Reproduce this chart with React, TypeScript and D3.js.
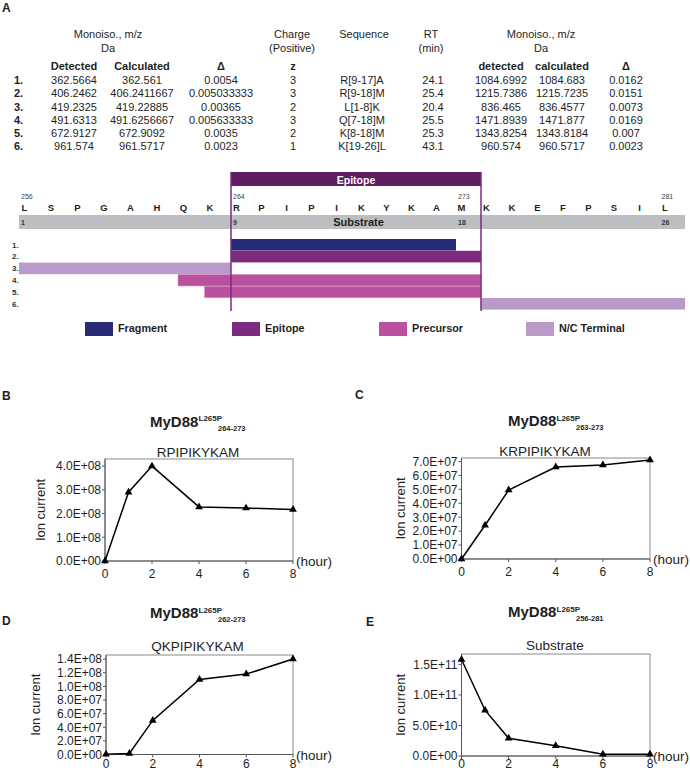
import React from 'react';
import * as d3 from 'd3';

const FONT = '"Liberation Sans", Arial, Helvetica, sans-serif';
const INK = '#1e1e1e';

// ---- panel A: mass table ----
const rowNumbers = ['1.', '2.', '3.', '4.', '5.', '6.'];
const detected = ['362.5664', '406.2462', '419.2325', '491.6313', '672.9127', '961.574'];
const calculated = ['362.561', '406.2411667', '419.22885', '491.6256667', '672.9092', '961.5717'];
const delta = ['0.0054', '0.005033333', '0.00365', '0.005633333', '0.0035', '0.0023'];
const charge = ['3', '3', '2', '3', '2', '1'];
const sequences = ['R[9-17]A', 'R[9-18]M', 'L[1-8]K', 'Q[7-18]M', 'K[8-18]M', 'K[19-26]L'];
const retention = ['24.1', '25.4', '20.4', '25.5', '25.3', '43.1'];
const detectedDa = ['1084.6992', '1215.7386', '836.465', '1471.8939', '1343.8254', '960.574'];
const calculatedDa = ['1084.683', '1215.7235', '836.4577', '1471.877', '1343.8184', '960.5717'];
const deltaDa = ['0.0162', '0.0151', '0.0073', '0.0169', '0.007', '0.0023'];

// ---- panel A: peptide map ----
const residues = 'LSPGAHQKRPIPIKYKAMKKEFPSIL'.split('');
const markedPositions = [1, 9, 18, 26]; // 1-based, residue number = 255 + pos
const peptideStart = [9, 9, 1, 7, 8, 19];
const peptideEnd = [17, 18, 8, 18, 18, 26];
const peptideKind = ['Fragment', 'Epitope', 'N/C Terminal', 'Precursor', 'Precursor', 'N/C Terminal'];
const legendKinds = ['Fragment', 'Epitope', 'Precursor', 'N/C Terminal'];
const kindColor: Record<string, string> = {
  Fragment: '#282c78',
  Epitope: '#7e2a7f',
  Precursor: '#b9519f',
  'N/C Terminal': '#b99bca',
};

// ---- panels B-E: time courses ----
const hours = [0, 1, 2, 4, 6, 8];
const hourTicks = [0, 2, 4, 6, 8];
const rpipikykam = [0, 2.9e8, 4.0e8, 2.28e8, 2.23e8, 2.17e8];
const krpipikykam = [0, 2.42e7, 4.95e7, 6.6e7, 6.75e7, 7.1e7];
const qkpipikykam = [5e5, 1.5e6, 5.0e7, 1.1e8, 1.18e8, 1.4e8];
const substrate = [1.58e11, 7.5e10, 2.9e10, 1.68e10, 3.0e9, 3.0e9];
const ticksB = [0, 1e8, 2e8, 3e8, 4e8];
const ticksC = [0, 1e7, 2e7, 3e7, 4e7, 5e7, 6e7, 7e7];
const ticksD = [0, 2e7, 4e7, 6e7, 8e7, 1e8, 1.2e8, 1.4e8];
const ticksE = [0, 5e10, 1e11, 1.5e11];

const sci = (v: number) => {
  const [m, e] = v.toExponential(1).split('e');
  const ex = parseInt(e, 10);
  return `${m}E${ex < 0 ? '-' : '+'}${String(Math.abs(ex)).padStart(2, '0')}`;
};

interface ChartSpec {
  letter: string; letterX: number; letterY: number;
  titleX: number; titleY: number; range: string;
  sub: string; subX: number; subY: number;
  l: number; r: number; t: number; b: number;
  yMax: number; ticks: number[]; values: number[]; ylabX: number;
}

const charts: ChartSpec[] = [
  { letter: 'B', letterX: 2, letterY: 399.5, titleX: 150, titleY: 426.5, range: '264-273', sub: 'RPIPIKYKAM', subX: 198, subY: 456.5,
    l: 105, r: 293, t: 459, b: 561, yMax: 4.3e8, ticks: ticksB, values: rpipikykam, ylabX: 40 },
  { letter: 'C', letterX: 355, letterY: 398.5, titleX: 508, titleY: 426, range: '263-273', sub: 'KRPIPIKYKAM', subX: 545, subY: 456,
    l: 461.5, r: 650, t: 458, b: 559, yMax: 7.25e7, ticks: ticksC, values: krpipikykam, ylabX: 400 },
  { letter: 'D', letterX: 2, letterY: 625, titleX: 150, titleY: 618, range: '262-273', sub: 'QKPIPIKYKAM', subX: 197.5, subY: 650.5,
    l: 106, r: 293, t: 655, b: 754.5, yMax: 1.46e8, ticks: ticksD, values: qkpipikykam, ylabX: 35 },
  { letter: 'E', letterX: 366, letterY: 626, titleX: 508, titleY: 617, range: '256-281', sub: 'Substrate', subX: 555, subY: 650,
    l: 461.5, r: 650, t: 654, b: 756, yMax: 1.67e11, ticks: ticksE, values: substrate, ylabX: 400 },
];

const TimeCourse: React.FC<{ s: ChartSpec }> = ({ s }) => {
  const x = d3.scaleLinear().domain([0, 8]).range([s.l, s.r]);
  const y = d3.scaleLinear().domain([0, s.yMax]).range([s.b, s.t]);
  const pts = hours.map((h, i) => [x(h), y(s.values[i])] as [number, number]);
  const line = d3.line()(pts) || '';
  const tri = d3.symbol(d3.symbolTriangle, 26)() || '';
  // bottom row of labels sits on the page edge
  const xLabY = Math.min(s.b + 16.5, 768);
  return (
    <g fontFamily={FONT} fill={INK}>
      <text x={s.letterX} y={s.letterY} fontSize={12} fontWeight="bold">{s.letter}</text>
      <text x={s.titleX} y={s.titleY} fontSize={15} fontWeight="bold">MyD88</text>
      <text x={s.titleX + 48.5} y={s.titleY - 5.5} fontSize={8} fontWeight="bold">L265P</text>
      <text x={s.titleX + 68} y={s.titleY + 4} fontSize={7.5} fontWeight="bold">{s.range}</text>
      <text x={s.subX} y={s.subY} fontSize={13.5} textAnchor="middle">{s.sub}</text>
      <rect x={s.l} y={s.t} width={s.r - s.l} height={s.b - s.t} fill="none" stroke="#8a8a8a" strokeWidth={1} />
      <line x1={s.l} x2={s.l} y1={s.t} y2={s.b} stroke="#555" />
      <line x1={s.l} x2={s.r} y1={s.b} y2={s.b} stroke="#555" />
      {s.ticks.map((v) => (
        <g key={v}>
          <line x1={s.l - 3} x2={s.l} y1={y(v)} y2={y(v)} stroke="#555" />
          <text x={s.l - 4} y={y(v) + 4.3} fontSize={12} textAnchor="end">{sci(v)}</text>
        </g>
      ))}
      {hourTicks.map((h) => (
        <g key={h}>
          <line x1={x(h)} x2={x(h)} y1={s.b} y2={s.b + 3} stroke="#555" />
          <text x={x(h)} y={xLabY} fontSize={12} textAnchor="middle">{h}</text>
        </g>
      ))}
      <text transform={`translate(${s.ylabX + 4.5},${(s.t + s.b) / 2}) rotate(-90)`} fontSize={13} textAnchor="middle">Ion current</text>
      <text x={s.r + 3} y={s.b + 5} fontSize={13.5}>(hour)</text>
      <path d={line} fill="none" stroke="#000" strokeWidth={1.5} />
      {pts.map((p, i) => (
        <path key={i} d={tri} transform={`translate(${p[0]},${p[1]})`} fill="#000" />
      ))}
    </g>
  );
};

const App: React.FC = () => {
  // residue boundaries: piecewise to follow the drawn map
  const res = d3.scaleLinear().domain([0, 8, 18, 26]).range([19, 231, 481, 685]);
  const rowTop = (i: number) => 239 + i * 11.8;
  const rowH = 11.6;
  const rowY = (i: number) => 84 + i * 13.27;
  const colsLeft: [string, string[], number][] = [
    ['Detected', detected, 74], ['Calculated', calculated, 142], ['Δ', delta, 221], ['z', charge, 293],
  ];
  const colsRight: [string, string[], number][] = [
    ['detected', detectedDa, 501], ['calculated', calculatedDa, 562], ['Δ', deltaDa, 626],
  ];
  return (
    <svg width={690} height={771} style={{ position: 'absolute', left: 0, top: 0, background: '#fff' }}>
      <rect width={690} height={771} fill="#fff" />
      <g fontFamily={FONT} fill={INK} fontSize={11}>
        <text x={2} y={12} fontSize={12} fontWeight="bold">A</text>
        {/* headers */}
        <g textAnchor="middle">
          <text x={108} y={38}>Monoiso., m/z</text>
          <text x={108} y={51.5}>Da</text>
          <text x={292} y={38}>Charge</text>
          <text x={292} y={51.5}>(Positive)</text>
          <text x={364} y={38}>Sequence</text>
          <text x={431} y={38}>RT</text>
          <text x={431} y={51.5}>(min)</text>
          <text x={541} y={38}>Monoiso., m/z</text>
          <text x={541} y={51.5}>Da</text>
          {[...colsLeft, ...colsRight].map(([h, vals, cx]) => (
            <g key={h + cx}>
              <text x={cx} y={70} fontWeight="bold">{h}</text>
              {vals.map((v, i) => <text key={i} x={cx} y={rowY(i)}>{v}</text>)}
            </g>
          ))}
          {sequences.map((v, i) => <text key={i} x={362} y={rowY(i)}>{v}</text>)}
          {retention.map((v, i) => <text key={i} x={433} y={rowY(i)}>{v}</text>)}
        </g>
        {rowNumbers.map((v, i) => <text key={i} x={14} y={rowY(i)} fontWeight="bold">{v}</text>)}
      </g>

      {/* peptide map */}
      <g fontFamily={FONT} fill={INK}>
        {residues.map((r, i) => (
          <text key={i} x={res(i) + 5.5} y={211} fontSize={9.5} fontWeight="bold" textAnchor="middle">{r}</text>
        ))}
        {markedPositions.map((p) => (
          <text key={p} x={res(p - 1) + 2} y={199} fontSize={7} fill="#444">{255 + p}</text>
        ))}
        <rect x={res(0)} y={215} width={res(26) - res(0)} height={14} fill="#bdbec1" />
        {markedPositions.map((p) => (
          <text key={p} x={res(p - 1) + 2} y={225} fontSize={7} fontWeight="bold" fill="#333">{p}</text>
        ))}
        <text x={358.5} y={226} fontSize={11} fontWeight="bold" textAnchor="middle">Substrate</text>
        {peptideStart.map((st, i) => (
          <rect key={i} x={res(st - 1)} y={rowTop(i)} width={res(peptideEnd[i]) - res(st - 1)} height={rowH}
            fill={kindColor[peptideKind[i]]}
            stroke={peptideKind[i] === 'Precursor' ? '#dc96cb' : 'none'} strokeWidth={0.6} />
        ))}
        {rowNumbers.map((v, i) => (
          <text key={i} x={12} y={rowTop(i) + 8.5} fontSize={8} fontWeight="bold" fill="#333">{v}</text>
        ))}
        <rect x={res(8)} y={172} width={res(18) - res(8)} height={14} fill="#5f1d63" />
        <text x={356} y={183.5} fontSize={10.5} fontWeight="bold" fill="#fff" textAnchor="middle">Epitope</text>
        <line x1={res(8)} x2={res(8)} y1={172} y2={311} stroke="#7e2a7f" strokeWidth={1.5} />
        <line x1={res(18)} x2={res(18)} y1={172} y2={311} stroke="#7e2a7f" strokeWidth={1.5} />
        {legendKinds.map((k, i) => (
          <g key={k}>
            <rect x={85 + i * 147} y={322} width={28} height={14} fill={kindColor[k]} />
            <text x={118 + i * 147} y={331.5} fontSize={10.8} fontWeight="bold">{k}</text>
          </g>
        ))}
      </g>

      {charts.map((s) => <TimeCourse key={s.letter} s={s} />)}
    </svg>
  );
};

export default App;
